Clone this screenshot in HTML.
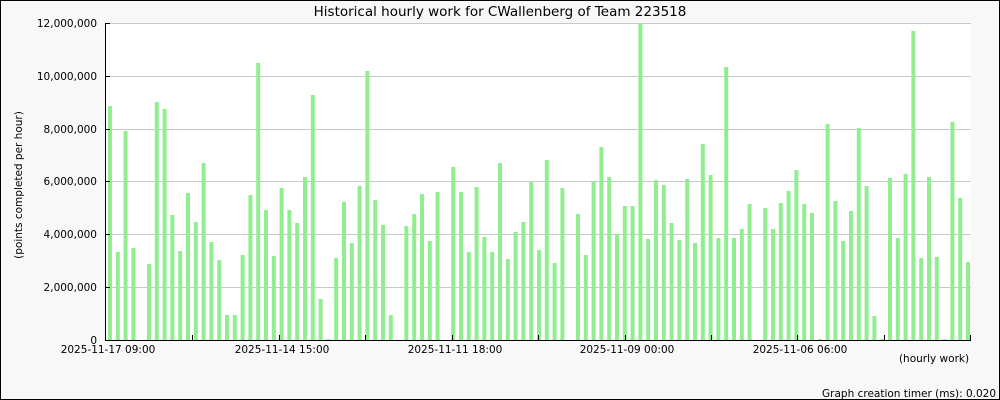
<!DOCTYPE html>
<html><head><meta charset="utf-8"><style>
html,body{margin:0;padding:0;background:#f8f8f8;}
svg{display:block;font-family:"DejaVu Sans","Liberation Sans",sans-serif;}
</style></head><body>
<svg id="s" width="1000" height="400" xmlns="http://www.w3.org/2000/svg">
<rect x="0.5" y="0.5" width="999" height="399" fill="#f8f8f8" stroke="#000"/>
<rect x="105" y="23" width="866" height="317" fill="#fff"/>
<g stroke="#c8c8c8" stroke-width="1">
<line x1="105" y1="23.5" x2="971" y2="23.5"/>
<line x1="105" y1="76.5" x2="971" y2="76.5"/>
<line x1="105" y1="129.5" x2="971" y2="129.5"/>
<line x1="105" y1="181.5" x2="971" y2="181.5"/>
<line x1="105" y1="234.5" x2="971" y2="234.5"/>
<line x1="105" y1="287.5" x2="971" y2="287.5"/>
</g>
<g id="bars" fill="#90ee90"></g>
<g stroke="#000" stroke-width="1">
<line x1="105.5" y1="23" x2="105.5" y2="340"/>
<line x1="105" y1="340.5" x2="971" y2="340.5"/>
<line x1="105" y1="23.5" x2="110" y2="23.5"/>
<line x1="105" y1="76.5" x2="110" y2="76.5"/>
<line x1="105" y1="129.5" x2="110" y2="129.5"/>
<line x1="105" y1="181.5" x2="110" y2="181.5"/>
<line x1="105" y1="234.5" x2="110" y2="234.5"/>
<line x1="105" y1="287.5" x2="110" y2="287.5"/>
<line x1="192.5" y1="335" x2="192.5" y2="340"/>
<line x1="279.5" y1="335" x2="279.5" y2="340"/>
<line x1="365.5" y1="335" x2="365.5" y2="340"/>
<line x1="452.5" y1="335" x2="452.5" y2="340"/>
<line x1="538.5" y1="335" x2="538.5" y2="340"/>
<line x1="625.5" y1="335" x2="625.5" y2="340"/>
<line x1="711.5" y1="335" x2="711.5" y2="340"/>
<line x1="797.5" y1="335" x2="797.5" y2="340"/>
<line x1="884.5" y1="335" x2="884.5" y2="340"/>
<line x1="970.5" y1="335" x2="970.5" y2="340"/>
</g>
<text x="500" y="16" font-size="13.5" text-anchor="middle" fill="#000">Historical hourly work for CWallenberg of Team 223518</text>
<g font-size="10.5" text-anchor="end" fill="#000">
<text x="97" y="27">12,000,000</text>
<text x="97" y="80">10,000,000</text>
<text x="97" y="133">8,000,000</text>
<text x="97" y="185">6,000,000</text>
<text x="97" y="238">4,000,000</text>
<text x="97" y="291">2,000,000</text>
<text x="97" y="344">0</text>
</g>
<g font-size="10.5" text-anchor="middle" fill="#000">
<text x="108" y="353">2025-11-17 09:00</text>
<text x="282" y="353">2025-11-14 15:00</text>
<text x="455" y="353">2025-11-11 18:00</text>
<text x="627" y="353">2025-11-09 00:00</text>
<text x="800" y="353">2025-11-06 06:00</text>
<text x="934" y="362">(hourly work)</text>
</g>
<text x="22" y="185" font-size="10.5" text-anchor="middle" transform="rotate(-90 22 185)">(points completed per hour)</text>
<text x="996" y="397" font-size="10.5" text-anchor="end">Graph creation timer (ms): 0.020</text>
</svg>
<script>
var t=[106,252,131,248,340,264,102,109,215,251,193,222,163,242,260,315,315,255,195,63,210,256,188,210,223,177,95,299,339,258,202,243,186,71,200,225,315,340,226,214,194,241,192,340,167,192,252,187,237,252,163,259,232,222,182,250,160,263,188,340,214,255,182,147,177,234,206,206,24,239,180,185,223,240,179,243,144,175,238,67,238,229,204,340,208,229,203,191,170,204,213,339,124,201,241,211,128,186,316,339,178,238,174,31,258,177,257,339,122,198,262];
var g=document.getElementById('bars'),h='';
for(var i=0;i<t.length;i++){if(t[i]>=340)continue;var x=108+i*7.8;h+='<rect x="'+x.toFixed(1)+'" y="'+t[i]+'" width="4" height="'+(340-t[i])+'"/>';}
g.innerHTML=h;
</script>
</body></html>
